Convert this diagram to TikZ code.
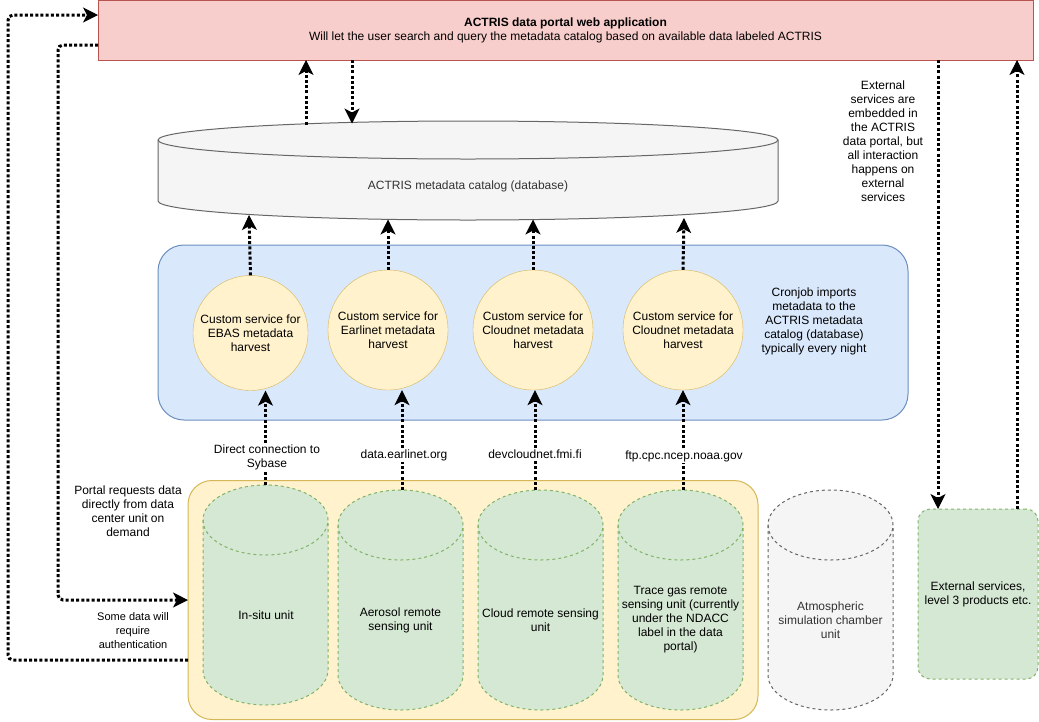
\documentclass[tikz,border=0pt]{standalone}
\usepackage{fontspec}
\setmainfont{Liberation Sans}
\usetikzlibrary{arrows.meta}
\definecolor{redfill}{HTML}{F8CECC}
\definecolor{redline}{HTML}{B85450}
\definecolor{bluefill}{HTML}{DAE8FC}
\definecolor{blueline}{HTML}{6C8EBF}
\definecolor{yelfill}{HTML}{FFF2CC}
\definecolor{yelline}{HTML}{D6B656}
\definecolor{grnfill}{HTML}{D5E8D4}
\definecolor{grnline}{HTML}{82B366}
\definecolor{greyfill}{HTML}{F5F5F5}
\definecolor{greyline}{HTML}{666666}
\definecolor{greytext}{HTML}{333333}
\newcommand{\mycyl}[6]{%
  \pgfmathsetmacro\myrx{(#4-#2)/2}%
  \draw[#1] (#2,#3+#6) -- (#2,#5-#6) arc[start angle=180,end angle=360,x radius=\myrx pt,y radius=#6pt] -- (#4,#3+#6) arc[start angle=0,end angle=180,x radius=\myrx pt,y radius=#6pt] -- cycle;
  \draw[#1,fill=none] (#2,#3+#6) arc[start angle=180,end angle=360,x radius=\myrx pt,y radius=#6pt];
}
\begin{document}
\begin{tikzpicture}[x=1pt,y=-1pt,
  lbl/.style={font=\fontsize{12}{14}\selectfont, align=center, inner sep=1pt},
  small/.style={font=\fontsize{11}{14}\selectfont, align=center, inner sep=1pt},
  conn/.style={line width=3pt, dash pattern=on 3pt off 2.2pt, rounded corners=5pt,
    -{Stealth[length=15pt,width=15pt,inset=4pt,line width=1pt]}},
  boxnode/.style={inner sep=0pt, outer sep=0pt},
  circ/.style={circle, draw=yelline, fill=yelfill, inner sep=0pt, align=center, font=\fontsize{12}{14}\selectfont},
  dbst/.style={draw=greyline, fill=greyfill, line width=1pt},
  unitst/.style={draw=grnline, fill=grnfill, line width=1pt, dash pattern=on 3pt off 3pt},
  chamst/.style={draw=greyline, fill=greyfill, line width=1pt, dash pattern=on 3pt off 3pt}]
\useasboundingbox (0,0) rectangle (1039,721);

% portal
\node[boxnode, draw=redline, fill=redfill, line width=1pt, minimum width=935pt, minimum height=60pt, anchor=north west,
  align=center, font=\fontsize{12}{14}\selectfont] (portal) at (98,0)
  {\textbf{ACTRIS data portal web application}\\Will let the user search and query the metadata catalog based on available data labeled ACTRIS};

% metadata catalog
\mycyl{dbst}{158}{121}{778}{220}{19}
\node[boxnode, minimum width=620pt, minimum height=99pt] (db) at (468,170.5) {};
\node[lbl, text=greytext] (dbtext) at (468,186) {ACTRIS metadata catalog (database)};

% cronjob box
\node[boxnode, draw=blueline, fill=bluefill, line width=1pt, rounded corners=26pt, minimum width=750pt, minimum height=175pt, anchor=north west] (cron) at (158,245) {};
\node[circ, minimum size=115pt] (c1) at (250.5,333) {Custom service for\\EBAS metadata\\harvest};
\node[circ, minimum size=120pt] (c2) at (388,330) {Custom service for\\Earlinet metadata\\harvest};
\node[circ, minimum size=120pt] (c3) at (533,330) {Custom service for\\Cloudnet metadata\\harvest};
\node[circ, minimum size=120pt] (c4) at (683,330) {Custom service for\\Cloudnet metadata\\harvest};
\node[lbl] (crontext) at (814,321) {Cronjob imports\\metadata to the\\ACTRIS metadata\\catalog (database)\\typically every night};

% data centre box
\node[boxnode, draw=yelline, fill=yelfill, line width=1pt, rounded corners=24pt, minimum width=570pt, minimum height=239pt, anchor=north west] (yel) at (188,480.5) {};
\mycyl{unitst}{203}{485}{328}{705}{35}
\mycyl{unitst}{338}{490}{463}{710}{35}
\mycyl{unitst}{478}{490}{603}{710}{35}
\mycyl{unitst}{618}{490}{743}{710}{35}
\mycyl{chamst}{768}{490}{893}{710}{35}
\node[boxnode, minimum width=125pt, minimum height=220pt] (u1) at (265.5,595) {};
\node[boxnode, minimum width=125pt, minimum height=220pt] (u2) at (400.5,600) {};
\node[boxnode, minimum width=125pt, minimum height=220pt] (u3) at (540.5,600) {};
\node[boxnode, minimum width=125pt, minimum height=220pt] (u4) at (680.5,600) {};
\node[boxnode, minimum width=125pt, minimum height=220pt] (u5) at (830.5,600) {};
\node[lbl] (u1t) at (266,615) {In-situ unit};
\node[lbl] (u2t) at (400.5,620) {Aerosol remote\\sensing unit};
\node[lbl] (u3t) at (540.5,620) {Cloud remote sensing\\unit};
\node[lbl] (u4t) at (680.5,620) {Trace gas remote\\sensing unit (currently\\under the NDACC\\label in the data\\portal)};
\node[lbl, text=greytext] (u5t) at (830.5,620) {Atmospheric\\simulation chamber\\unit};

% external services
\node[boxnode, draw=grnline, fill=grnfill, line width=1pt, dash pattern=on 3pt off 3pt, rounded corners=12pt, minimum width=120pt, minimum height=170pt, anchor=north west] (ext) at (918,509) {};
\node[lbl] (extt) at (978,594) {External services,\\level 3 products etc.};
\node[lbl] (exttext) at (883,141) {External\\services are\\embedded in\\the ACTRIS\\data portal, but\\all interaction\\happens on\\external\\services};

% connectors portal <-> catalog
\coordinate (t1) at (306,124.5);
\coordinate (t2) at (352,123.5);
\draw[conn] (t1) -- (t1 |- portal.south);
\draw[conn] (t2 |- portal.south) -- (t2);

% harvest -> catalog
\draw[conn] (c1.north) -- (249,215);
\draw[conn] (c2.north) -- (388,219.5);
\draw[conn] (c3.north) -- (533,219.5);
\draw[conn] (c4.north) -- (684,218);

% units -> harvest
\coordinate (a1) at (265.5,485);
\coordinate (a2) at (402,490);
\coordinate (a3) at (535,490);
\coordinate (a4) at (683,490);
\draw[conn] (a1) -- (a1 |- c1.south);
\draw[conn] (a2) -- (a2 |- c2.south);
\draw[conn] (a3) -- (a3 |- c3.south);
\draw[conn] (a4) -- (a4 |- c4.south);
\node[lbl, fill=white] (l1) at (267,457) {Direct connection to\\Sybase};
\node[lbl, fill=white] (l2) at (404,455) {data.earlinet.org};
\node[lbl, fill=white] (l3) at (535,454) {devcloudnet.fmi.fi};
\node[lbl, fill=white] (l4) at (684,456) {ftp.cpc.ncep.noaa.gov};

% left connectors
\draw[conn] ([yshift=-60pt]yel.west) -- ++(-180,0) |- ([yshift=15pt]portal.west);
\draw[conn] ([yshift=-15pt]portal.west) -- ++(-40,0) |- (yel.west);
\node[lbl] (l5) at (128,511) {Portal requests data\\directly from data\\center unit on\\demand};
\node[small] (l6) at (133,631) {Some data will\\require\\authentication};

% right connectors
\coordinate (e1) at (938,509);
\coordinate (e2) at (1017,509);
\draw[conn] (portal.south -| e1) -- (e1);
\draw[conn] (e2) -- (portal.south -| e2);
\end{tikzpicture}
\end{document}
